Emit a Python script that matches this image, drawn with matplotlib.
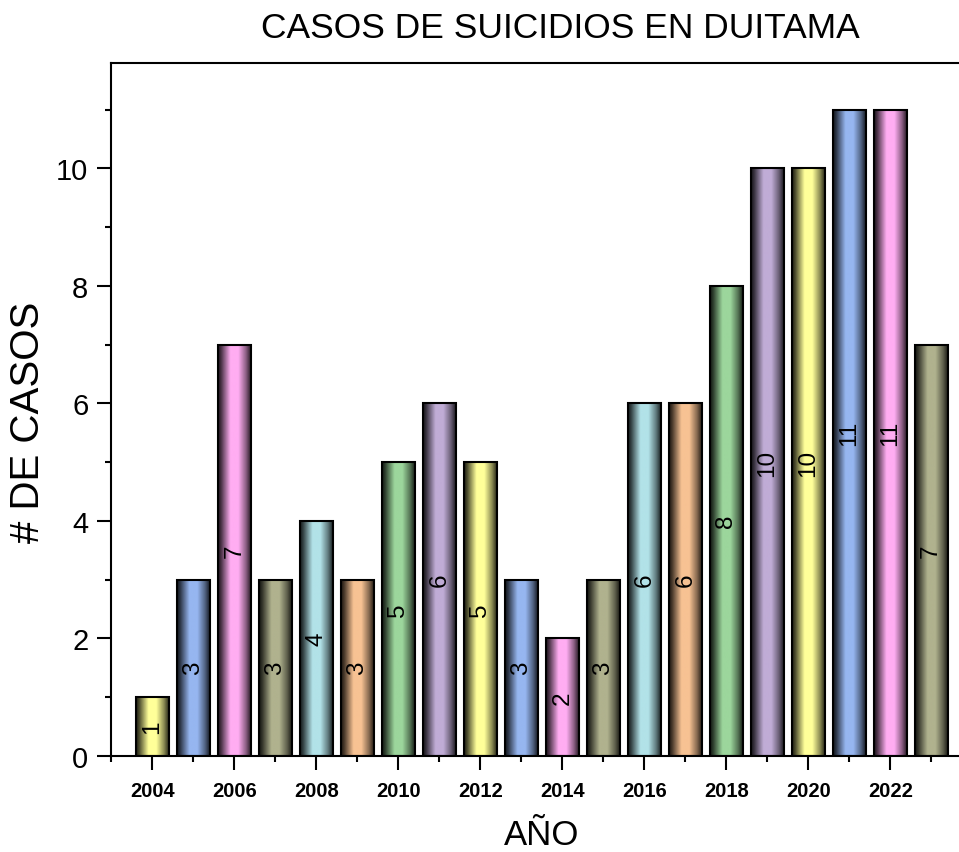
import numpy as np
import matplotlib.pyplot as plt
from matplotlib.colors import to_rgb

plt.rcParams['font.family'] = ['Liberation Sans', 'DejaVu Sans']

years = list(range(2004, 2024))
casos = [1, 3, 7, 3, 4, 3, 5, 6, 5, 3, 2, 3, 6, 6, 8, 10, 10, 11, 11, 7]
palette = ['#ffff99', '#96b6f0', '#ffadf2', '#b0b28e', '#b2e2e8',
           '#f7c293', '#9cd69c', '#c0acd6']

# horizontal shading across each bar (cylinder look)
shade_t = [0.0, 0.1, 0.38, 0.62, 0.85, 1.0]
shade_f = [0.1, 0.3, 1.0, 1.0, 0.55, 0.15]

fig = plt.figure(figsize=(9.59, 8.53), dpi=100)
ax = fig.add_axes([0.1154, 0.1129, 0.8984, 0.8117])

bars = ax.bar(years, casos, width=0.8, facecolor='none', edgecolor='black',
              linewidth=1.5, zorder=3)

t = np.linspace(0, 1, 200)
f = np.interp(t, shade_t, shade_f)
for i, b in enumerate(bars):
    c = np.array(to_rgb(palette[i % len(palette)]))
    img = (c[None, None, :] * f[None, :, None])
    x0, y0 = b.get_x(), b.get_y()
    im = ax.imshow(img, extent=[x0, x0 + b.get_width(), y0, y0 + b.get_height()],
                   aspect='auto', interpolation='bilinear', zorder=2)
    im.set_clip_path(b)
    ax.text(years[i], casos[i] / 2, str(casos[i]), rotation=90, ha='center',
            va='center', fontsize=17.5, zorder=4)

ax.set_xlim(2002.985, 2024.0)
ax.set_ylim(0, 11.79)

ax.set_xticks(range(2004, 2023, 2))
ax.set_xticks(range(2003, 2024, 2), minor=True)
ax.set_yticks(range(0, 11, 2))
ax.set_yticks(range(1, 12, 2), minor=True)

ax.tick_params(which='major', direction='out', length=10, width=1.5)
ax.tick_params(which='minor', direction='out', length=4.5, width=1.5)
ax.tick_params(axis='y', labelsize=21, pad=6)
ax.tick_params(axis='x', labelsize=14.5, pad=8)
for lab in ax.get_xticklabels():
    lab.set_fontweight('bold')
for s in ax.spines.values():
    s.set_linewidth(1.5)

ax.set_xlabel('AÑO', fontsize=25, labelpad=13)
fig.text(28 / 959, 1 - 422 / 853, '# DE CASOS', rotation=90, ha='center',
         va='center', fontsize=29)
fig.text(560 / 959, 1 - 38.3 / 853, 'CASOS DE SUICIDIOS EN DUITAMA',
         ha='center', va='baseline', fontsize=25.5)

fig.savefig('out.png', dpi=100)
